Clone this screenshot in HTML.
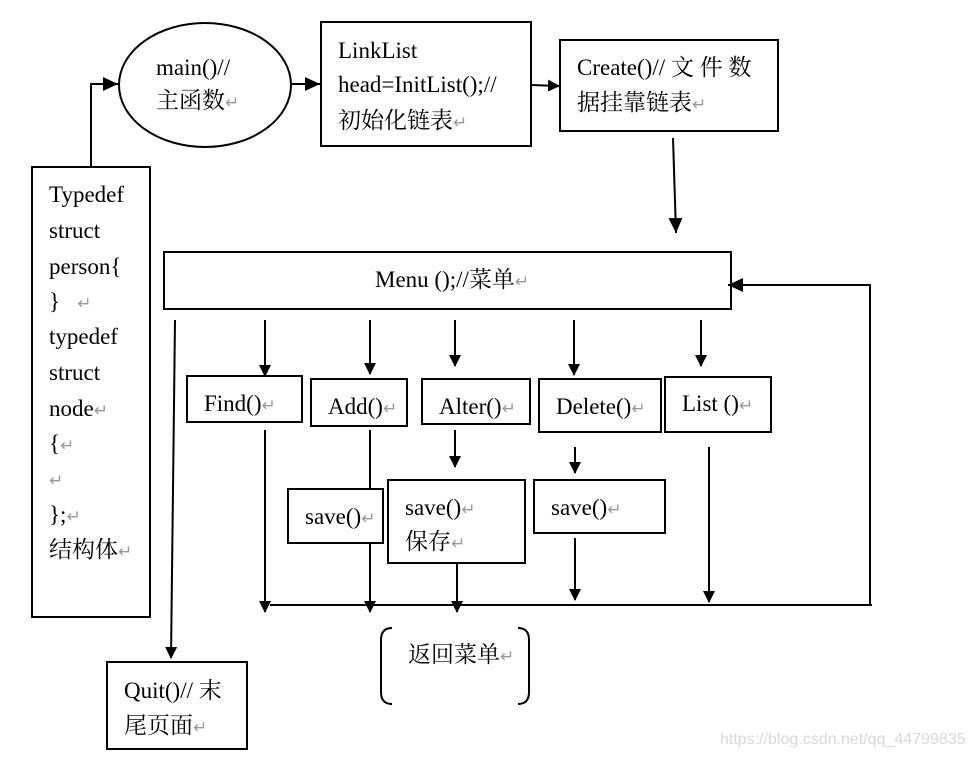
<!DOCTYPE html>
<html><head><meta charset="utf-8"><style>
html,body{margin:0;padding:0;background:#fff;}
svg{display:block;}
text{font-family:"Liberation Serif","Noto Serif CJK SC",serif;font-size:23px;fill:#000;}
.c{font-size:23px;}
.r{fill:#999;font-size:17px;}
.w{font-family:"Liberation Sans",sans-serif;font-size:16px;fill:#d8d8d8;}
</style></head><body>
<svg width="972" height="757" viewBox="0 0 972 757" xmlns="http://www.w3.org/2000/svg">
<defs><marker id="a" markerWidth="12" markerHeight="12" refX="11" refY="6" orient="auto" markerUnits="userSpaceOnUse"><path d="M0,0 L12,6 L0,12 z" fill="#000"/></marker>
<marker id="b" markerWidth="16" markerHeight="16" refX="15" refY="7" orient="auto" markerUnits="userSpaceOnUse"><path d="M0,0 L15,7 L0,14 z" fill="#000"/></marker></defs>
<g stroke="#000" stroke-width="2" fill="none">
<ellipse cx="205" cy="85" rx="86" ry="62"/>
<rect x="321" y="22" width="210" height="124"/>
<rect x="560" y="40" width="218" height="91"/>
<rect x="164" y="252" width="567" height="57"/>
<rect x="32" y="167" width="118" height="450"/>
<rect x="187" y="376" width="115" height="46"/>
<rect x="311" y="379" width="96" height="47"/>
<rect x="422" y="379" width="108" height="45"/>
<rect x="539" y="379" width="122" height="53"/>
<rect x="665" y="377" width="106" height="55"/>
<rect x="288" y="489" width="95" height="54"/>
<rect x="388" y="480" width="137" height="83"/>
<rect x="534" y="480" width="131" height="53"/>
<rect x="107" y="662" width="140" height="87"/>
<path d="M91,167 V84 H118" marker-end="url(#b)"/>
<path d="M291,84 H320" marker-end="url(#b)"/>
<path d="M531,85 L559,86" marker-end="url(#a)"/>
<path d="M673,138 L676,233" marker-end="url(#b)"/>
<path d="M265,320 V376" marker-end="url(#a)"/>
<path d="M370,320 V374" marker-end="url(#a)"/>
<path d="M455,320 V366" marker-end="url(#a)"/>
<path d="M574,320 V375" marker-end="url(#a)"/>
<path d="M701,320 V366" marker-end="url(#a)"/>
<path d="M265,430 V612" marker-end="url(#a)"/>
<path d="M370,430 V489 M370,543 V612" marker-end="url(#a)"/>
<path d="M455,430 V467" marker-end="url(#a)"/>
<path d="M457,563 V612" marker-end="url(#a)"/>
<path d="M575,447 V473" marker-end="url(#a)"/>
<path d="M575,538 V600" marker-end="url(#a)"/>
<path d="M709,447 V602" marker-end="url(#a)"/>
<path d="M270,605 H872"/>
<path d="M870,605 V285 H728" marker-end="url(#b)"/>
<path d="M175,320 L171,658" marker-end="url(#a)"/>
<path d="M392,628 Q381,628 381,640 V692 Q381,704 392,704"/>
<path d="M518,628 Q529,628 529,640 V692 Q529,704 518,704"/>
</g>
<text x="156" y="75">main()//</text>
<text x="156" y="108" class="c">主函数<tspan class="r">↵</tspan></text>
<text x="338" y="58">LinkList</text>
<text x="338" y="92">head=InitList();//</text>
<text x="338" y="128" class="c">初始化链表<tspan class="r">↵</tspan></text>
<text x="577" y="75">Create()// <tspan class="c">文 件 数</tspan></text>
<text x="577" y="110" class="c">据挂靠链表<tspan class="r">↵</tspan></text>
<text x="375" y="287">Menu ();//<tspan class="c">菜单</tspan><tspan class="r">↵</tspan></text>
<text x="49" y="202">Typedef</text>
<text x="49" y="238">struct</text>
<text x="49" y="274">person{</text>
<text x="49" y="309">}&#160;&#160;&#160;<tspan class="r">↵</tspan></text>
<text x="49" y="344">typedef</text>
<text x="49" y="380">struct</text>
<text x="49" y="416">node<tspan class="r">↵</tspan></text>
<text x="49" y="451">{<tspan class="r">↵</tspan></text>
<text x="49" y="486" class="r">↵</text>
<text x="49" y="522">};<tspan class="r">↵</tspan></text>
<text x="49" y="557" class="c">结构体<tspan class="r">↵</tspan></text>
<text x="204" y="411">Find()<tspan class="r">↵</tspan></text>
<text x="328" y="414">Add()<tspan class="r">↵</tspan></text>
<text x="439" y="414">Alter()<tspan class="r">↵</tspan></text>
<text x="556" y="414">Delete()<tspan class="r">↵</tspan></text>
<text x="682" y="411">List ()<tspan class="r">↵</tspan></text>
<text x="305" y="524">save()<tspan class="r">↵</tspan></text>
<text x="405" y="515">save()<tspan class="r">↵</tspan></text>
<text x="405" y="549" class="c">保存<tspan class="r">↵</tspan></text>
<text x="551" y="515">save()<tspan class="r">↵</tspan></text>
<text x="408" y="662" class="c">返回菜单<tspan class="r">↵</tspan></text>
<text x="124" y="698">Quit()// <tspan class="c">末</tspan></text>
<text x="124" y="733" class="c">尾页面<tspan class="r">↵</tspan></text>
<text x="720" y="744" class="w">https://blog.csdn.net/qq_44799835</text>
</svg>
</body></html>
